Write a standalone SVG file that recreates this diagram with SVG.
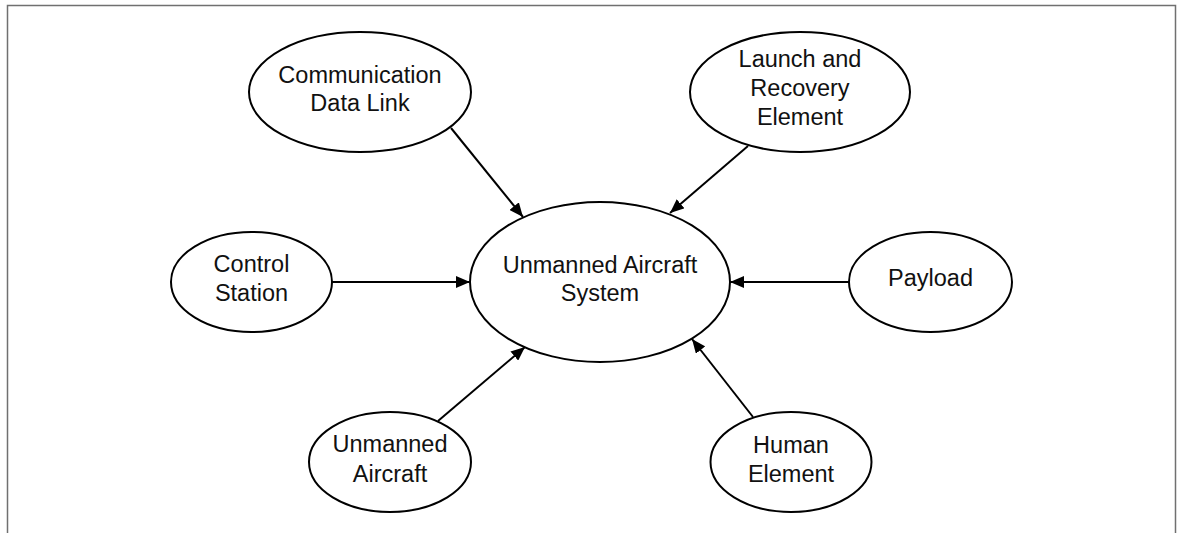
<svg xmlns="http://www.w3.org/2000/svg" width="1178" height="533" viewBox="0 0 1178 533">
  <style>
    .node ellipse { fill: #ffffff; stroke: #000000; stroke-width: 2; }
    .node text { font-family: "Liberation Sans", Arial, sans-serif; font-size: 23.5px; fill: #111111; text-anchor: middle; }
    .edge { stroke: #000000; stroke-width: 2; fill: none; marker-end: url(#arrow); }
    .frame { stroke: #707070; stroke-width: 1.5; fill: none; }
  </style>
  <defs>
    <marker id="arrow" viewBox="0 0 14 12" refX="14" refY="6" markerWidth="14" markerHeight="12" markerUnits="userSpaceOnUse" orient="auto">
      <path d="M0,0 L14,6 L0,12 Z" fill="#000000"/>
    </marker>
  </defs>

  <rect width="1178" height="533" fill="#ffffff"/>
  <!-- page frame, open at the bottom -->
  <path class="frame" d="M7.5,533 V5.5 H1175.5 V533"/>

  <g id="connectors">
    <line class="edge" x1="451" y1="128" x2="523" y2="217"/>
    <line class="edge" x1="748" y1="146" x2="670" y2="213"/>
    <line class="edge" x1="332" y1="282" x2="470" y2="282"/>
    <line class="edge" x1="849" y1="282" x2="730" y2="282"/>
    <line class="edge" x1="438" y1="421" x2="525" y2="347"/>
    <line class="edge" x1="753" y1="417" x2="692" y2="339"/>
  </g>

  <g id="node-uas" class="node">
    <ellipse cx="600" cy="282" rx="130" ry="80"/>
    <text x="600" y="272.5">Unmanned Aircraft</text>
    <text x="600" y="301">System</text>
  </g>

  <g id="node-comm" class="node">
    <ellipse cx="360" cy="92" rx="111" ry="60"/>
    <text x="360" y="82.5">Communication</text>
    <text x="360" y="111">Data Link</text>
  </g>

  <g id="node-launch" class="node">
    <ellipse cx="800" cy="92" rx="110" ry="60"/>
    <text x="800" y="66.5">Launch and</text>
    <text x="800" y="95.5">Recovery</text>
    <text x="800" y="124.5">Element</text>
  </g>

  <g id="node-control" class="node">
    <ellipse cx="251.5" cy="282" rx="80.5" ry="50"/>
    <text x="251.5" y="272">Control</text>
    <text x="251.5" y="301">Station</text>
  </g>

  <g id="node-payload" class="node">
    <ellipse cx="930.5" cy="282" rx="81.5" ry="50"/>
    <text x="930.5" y="286">Payload</text>
  </g>

  <g id="node-aircraft" class="node">
    <ellipse cx="390" cy="462" rx="81" ry="50"/>
    <text x="390" y="452">Unmanned</text>
    <text x="390" y="481.5">Aircraft</text>
  </g>

  <g id="node-human" class="node">
    <ellipse cx="791" cy="462" rx="80.5" ry="50"/>
    <text x="791" y="452.5">Human</text>
    <text x="791" y="481.5">Element</text>
  </g>
</svg>
